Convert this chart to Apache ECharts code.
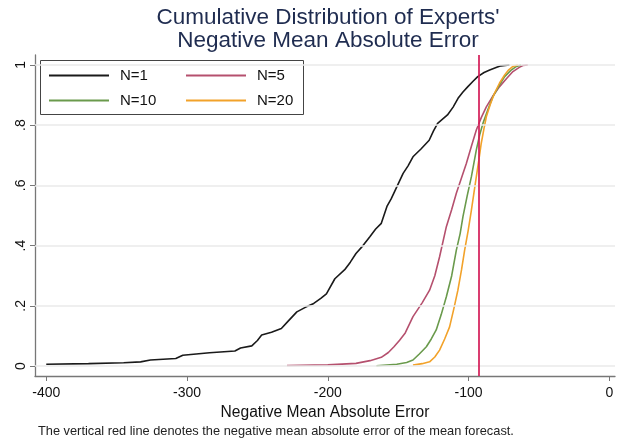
<!DOCTYPE html>
<html>
<head>
<meta charset="utf-8">
<script src="https://cdn.jsdelivr.net/npm/echarts@6/dist/echarts.min.js"></script>
<style>html,body{margin:0;padding:0;background:#fff}#c{width:620px;height:443px}</style>
</head>
<body>
<div id="c"></div>
<script>
// ---- data ----
const xTicks = [-400, -300, -200, -100, 0];
const yTicks = [0, 0.2, 0.4, 0.6, 0.8, 1];
const meanForecastNMAE = -93;

const n1X = [-400,-370,-345,-333,-326,-308,-303,-284,-266,-262,-254,-250,-247,-240,-233,-228,-222,-216,-210,-205,-201,-195,-188,-184,-180,-175,-170,-166,-162,-158,-155,-152,-149,-146.5,-143,-139.5,-134,-128,-125,-122,-115,-111,-107.5,-104,-100.5,-97,-93.5,-89,-85,-80,-77,-71];
const n1Y = [0.006,0.008,0.011,0.014,0.02,0.025,0.036,0.044,0.05,0.06,0.067,0.085,0.103,0.112,0.125,0.15,0.18,0.195,0.208,0.225,0.24,0.29,0.32,0.345,0.374,0.40,0.43,0.455,0.474,0.53,0.555,0.585,0.615,0.64,0.665,0.695,0.72,0.75,0.78,0.806,0.834,0.86,0.889,0.91,0.928,0.945,0.961,0.975,0.983,0.992,0.997,1.0];

const n5X = [-229,-200,-180,-170,-162,-157,-153,-149,-145,-139.5,-133,-127.7,-124,-120.6,-115.8,-112,-108.7,-105,-101.6,-98,-94.5,-91,-87.4,-83,-78,-73,-68.5,-64,-61.5,-58];
const n5Y = [0.002,0.004,0.009,0.018,0.029,0.045,0.064,0.086,0.11,0.164,0.21,0.252,0.30,0.363,0.463,0.52,0.574,0.625,0.673,0.73,0.784,0.825,0.861,0.895,0.928,0.955,0.978,0.992,0.998,1.0];

const n10X = [-165.5,-151,-144,-139.5,-135,-130,-126.5,-123,-119.5,-115.8,-112,-108.7,-106,-104,-101,-98,-94.5,-92,-89.8,-86,-82.7,-78.5,-74.4,-70,-66,-62.7];
const n10Y = [0.001,0.006,0.012,0.02,0.04,0.064,0.09,0.12,0.17,0.23,0.30,0.385,0.44,0.496,0.565,0.629,0.718,0.77,0.806,0.855,0.895,0.93,0.961,0.982,0.995,1.0];

const n20X = [-139.5,-133,-127.7,-124,-120.6,-117,-113.5,-110.5,-107.6,-105,-102.8,-100.3,-98,-96.2,-94.5,-92.7,-91,-89.2,-87.4,-84.5,-81.6,-78,-74.4,-71.5,-68.5,-65];
const n20Y = [0.003,0.008,0.014,0.03,0.053,0.09,0.13,0.19,0.252,0.32,0.385,0.45,0.518,0.575,0.629,0.685,0.74,0.785,0.828,0.87,0.906,0.94,0.967,0.984,0.995,1.0];

const seriesNames = ['N=1', 'N=5', 'N=10', 'N=20'];
const titleLines = ["Cumulative Distribution of Experts'", 'Negative Mean Absolute Error'];
const noteText = 'The vertical red line denotes the negative mean absolute error of the mean forecast.';
// ---------------------------------------

const zip = (xs, ys) => xs.map((x, i) => [x, ys[i]]);
const colors = ['#1a1a1a', '#b5506e', '#6a9a4c', '#f2a22a'];
const datasets = [zip(n1X, n1Y), zip(n5X, n5Y), zip(n10X, n10Y), zip(n20X, n20Y)];

const chart = echarts.init(document.getElementById('c'), null, {renderer: 'canvas'});
const FONT = 'Liberation Sans, Arial, Helvetica, sans-serif';

const lineSeries = seriesNames.map((name, i) => ({
  name: name,
  type: 'line',
  data: datasets[i],
  symbol: 'none',
  showSymbol: false,
  smooth: false,
  z: 3,
  lineStyle: {color: colors[i], width: 1.6},
  itemStyle: {color: colors[i]},
  animation: false
}));

const legendCommon = {
  orient: 'vertical',
  top: 68,
  padding: 0,
  itemWidth: 60, itemHeight: 14, itemGap: 10,
  itemStyle: {opacity: 0},
  textStyle: {fontFamily: FONT, fontSize: 15, color: '#111', padding: [0, 0, 0, 6]}
};

chart.setOption({
  animation: false,
  backgroundColor: '#ffffff',
  title: [{
    text: noteText,
    left: 38,
    top: 425,
    padding: 0,
    textStyle: {fontFamily: FONT, fontSize: 12.8, fontWeight: 'normal', color: '#222'}
  }],
  grid: {left: 35, right: 5, top: 55, bottom: 67, containLabel: false},
  xAxis: {
    type: 'value',
    min: -408, max: 4,
    name: 'Negative Mean Absolute Error',
    nameLocation: 'middle',
    nameGap: 28,
    nameTextStyle: {fontFamily: FONT, fontSize: 15.6, color: '#111'},
    axisLine: {show: true, onZero: false, lineStyle: {color: '#777', width: 1.3}},
    axisTick: {show: true, customValues: xTicks, length: 5, lineStyle: {color: '#777'}},
    axisLabel: {customValues: xTicks, margin: 10, fontFamily: FONT, fontSize: 14, color: '#111'},
    splitLine: {show: false}
  },
  yAxis: {
    type: 'value',
    min: -0.033, max: 1.033,
    axisLine: {show: true, onZero: false, lineStyle: {color: '#777', width: 1.3}},
    axisTick: {show: true, customValues: yTicks, length: 5, lineStyle: {color: '#777'}},
    axisLabel: {
      customValues: yTicks, rotate: 90, margin: 7, fontFamily: FONT, fontSize: 14, color: '#111',
      formatter: v => (v === 0 ? '0' : v === 1 ? '1' : String(+v.toFixed(1)).replace('0.', '.'))
    },
    splitLine: {show: false}
  },
  legend: [
    Object.assign({data: ['N=1', 'N=10'], left: 48}, legendCommon),
    Object.assign({data: ['N=5', 'N=20'], left: 185}, legendCommon)
  ],
  graphic: [{
    type: 'text',
    style: {text: titleLines[0], x: 328, y: 18, textAlign: 'center', textVerticalAlign: 'middle',
      font: 'normal 22.5px ' + FONT, fill: '#1f2c50'},
    z: 10
  }, {
    type: 'text',
    style: {text: titleLines[1], x: 328, y: 40.5, textAlign: 'center', textVerticalAlign: 'middle',
      font: 'normal 22.5px ' + FONT, fill: '#1f2c50'},
    z: 10
  }, {
    type: 'rect',
    shape: {x: 40.5, y: 60.5, width: 263, height: 54},
    style: {fill: '#fff', stroke: '#444', lineWidth: 1},
    z: 4
  }],
  series: [{
    name: 'gridlines',
    type: 'line',
    data: [],
    z: 1,
    silent: true,
    markLine: {
      silent: true,
      symbol: 'none',
      label: {show: false},
      lineStyle: {color: '#eaeaea', width: 1.5, type: 'solid'},
      data: yTicks.map(v => ({yAxis: v}))
    }
  }].concat(lineSeries).concat([{
    name: 'meanForecast',
    type: 'line',
    data: [],
    z: 5,
    silent: true,
    markLine: {
      silent: true,
      symbol: 'none',
      label: {show: false},
      lineStyle: {color: '#d41c57', width: 1.7, type: 'solid'},
      data: [{xAxis: meanForecastNMAE}]
    }
  }])
});
</script>
</body>
</html>
